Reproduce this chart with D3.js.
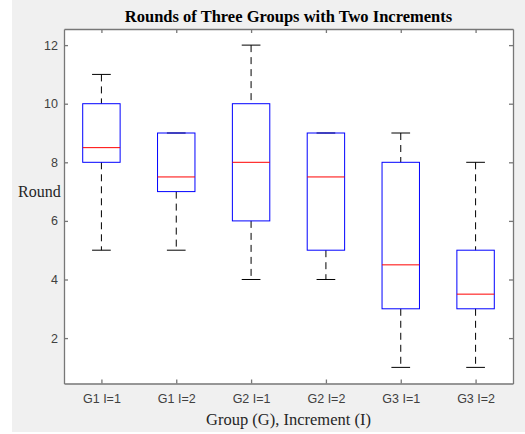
<!DOCTYPE html>
<html>
<head>
<meta charset="utf-8">
<script src="https://cdn.jsdelivr.net/npm/d3@7"></script>
<style>
  html, body { margin: 0; padding: 0; background: #fff; }
  svg { display: block; }
</style>
</head>
<body>
<svg id="chart"></svg>
<script>
// box statistics
const categories = ["G1 I=1", "G1 I=2", "G2 I=1", "G2 I=2", "G3 I=1", "G3 I=2"];
const mins    = [5, 5, 4, 4, 1, 1];
const q1s     = [8, 7, 6, 5, 3, 3];
const medians = [8.5, 7.5, 8, 7.5, 4.5, 3.5];
const q3s     = [10, 9, 10, 9, 8, 5];
const maxs    = [11, 9, 12, 9, 9, 8];
const yTicks  = [2, 4, 6, 8, 10, 12];

const width = 525, height = 434;
const margin = { top: 29, right: 12, bottom: 50.5, left: 64 };
const innerW = width - margin.left - margin.right;
const innerH = height - margin.top - margin.bottom;

const svg = d3.select("#chart").attr("width", width).attr("height", height);

// figure background (grey panel, thin white edge like the screenshot)
svg.append("rect")
    .attr("x", 12).attr("y", 0)
    .attr("width", width - 12).attr("height", 432)
    .attr("fill", "#f0f0f0");

const g = svg.append("g").attr("transform", `translate(${margin.left},${margin.top})`);

g.append("rect").attr("width", innerW).attr("height", innerH).attr("fill", "#fff");

const x = d3.scaleLinear().domain([0.5, categories.length + 0.5]).range([0, innerW]);
const y = d3.scaleLinear().domain([0.45, 12.55]).range([innerH, 0]);

const boxes = categories.map((c, i) => ({
    name: c, pos: i + 1,
    min: mins[i], q1: q1s[i], med: medians[i], q3: q3s[i], max: maxs[i]
}));

const boxW = x(1.25) - x(1);   // half box width (0.25 units)
const capW = x(1.125) - x(1);  // half cap width

const b = g.selectAll("g.box").data(boxes).join("g").attr("class", "box");

// whiskers, dashed
b.append("line")
    .attr("x1", d => x(d.pos)).attr("x2", d => x(d.pos))
    .attr("y1", d => y(d.max)).attr("y2", d => y(d.q3))
    .attr("stroke", "#000").attr("stroke-width", 1).attr("stroke-dasharray", "7,5");
b.append("line")
    .attr("x1", d => x(d.pos)).attr("x2", d => x(d.pos))
    .attr("y1", d => y(d.q1)).attr("y2", d => y(d.min))
    .attr("stroke", "#000").attr("stroke-width", 1).attr("stroke-dasharray", "7,5");

// caps
["max", "min"].forEach(k => {
    b.append("line")
        .attr("x1", d => x(d.pos) - capW).attr("x2", d => x(d.pos) + capW)
        .attr("y1", d => y(d[k])).attr("y2", d => y(d[k]))
        .attr("stroke", "#000").attr("stroke-width", 1);
});

// boxes
b.append("rect")
    .attr("x", d => x(d.pos) - boxW)
    .attr("y", d => y(d.q3))
    .attr("width", 2 * boxW)
    .attr("height", d => y(d.q1) - y(d.q3))
    .attr("fill", "none").attr("stroke", "#0000ff").attr("stroke-width", 1);

// medians
b.append("line")
    .attr("x1", d => x(d.pos) - boxW).attr("x2", d => x(d.pos) + boxW)
    .attr("y1", d => y(d.med)).attr("y2", d => y(d.med))
    .attr("stroke", "#ff0000").attr("stroke-width", 1);

// axes (ticks pointing inward, box on)
const axisColor = "#777";
const tickFont = "'Liberation Sans', Arial, sans-serif";

const axLeft = g.append("g")
    .call(d3.axisLeft(y).tickValues(yTicks).tickSizeInner(-4).tickSizeOuter(0).tickPadding(6));
const axRight = g.append("g").attr("transform", `translate(${innerW},0)`)
    .call(d3.axisRight(y).tickValues(yTicks).tickSizeInner(-4).tickSizeOuter(0).tickFormat(""));
const axBottom = g.append("g").attr("transform", `translate(0,${innerH})`)
    .call(d3.axisBottom(x).tickValues(d3.range(1, categories.length + 1))
        .tickFormat(d => categories[d - 1]).tickSizeInner(-4).tickSizeOuter(0).tickPadding(11));
const axTop = g.append("g")
    .call(d3.axisTop(x).tickValues(d3.range(1, categories.length + 1))
        .tickSizeInner(-4).tickSizeOuter(0).tickFormat(""));

[axLeft, axRight, axBottom, axTop].forEach(a => {
    a.select(".domain").attr("stroke", axisColor).attr("stroke-width", 1.3);
    a.selectAll(".tick line").attr("stroke", axisColor).attr("stroke-width", 1.3);
    a.selectAll(".tick text")
        .attr("fill", "#404040")
        .style("font-family", tickFont)
        .style("font-size", "12.5px");
});

// title and labels
svg.append("text")
    .attr("x", margin.left + innerW / 2).attr("y", 22)
    .attr("text-anchor", "middle")
    .style("font-family", "'Liberation Serif', 'Times New Roman', serif")
    .style("font-weight", "bold").style("font-size", "16.5px")
    .attr("fill", "#000")
    .text("Rounds of Three Groups with Two Increments");

svg.append("text")
    .attr("x", margin.left + innerW / 2).attr("y", 425)
    .attr("text-anchor", "middle")
    .style("font-family", "'Liberation Serif', 'Times New Roman', serif")
    .style("font-size", "16.5px")
    .attr("fill", "#262626")
    .text("Group (G), Increment (I)");

svg.append("text")
    .attr("x", 18).attr("y", 197)
    .style("font-family", "'Liberation Serif', 'Times New Roman', serif")
    .style("font-size", "16px")
    .attr("fill", "#262626")
    .text("Round");
</script>
</body>
</html>
